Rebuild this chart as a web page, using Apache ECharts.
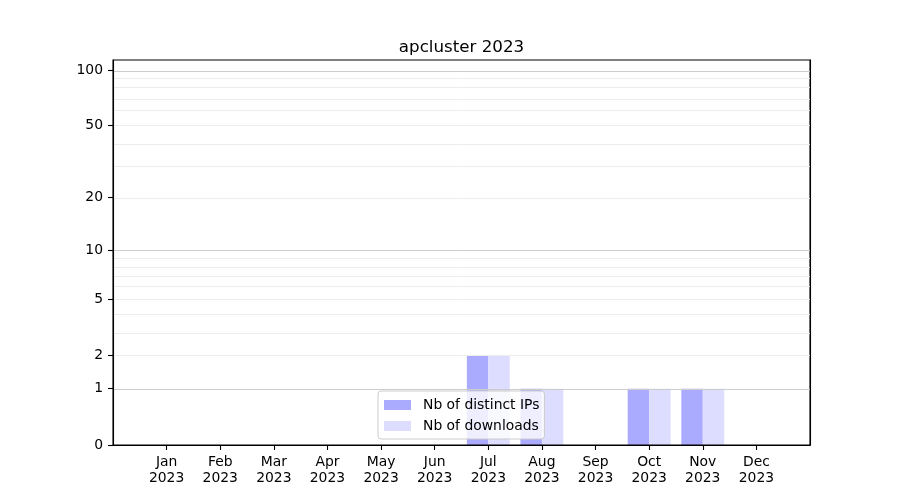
<!DOCTYPE html>
<html>
<head>
<meta charset="utf-8">
<script src="https://cdn.jsdelivr.net/npm/echarts@6/dist/echarts.min.js"></script>
<style>html,body{margin:0;padding:0;background:#fff}#c{width:900px;height:500px}</style>
</head>
<body>
<div id="c"></div>
<script>
const months = ['Jan','Feb','Mar','Apr','May','Jun','Jul','Aug','Sep','Oct','Nov','Dec'];
const year = '2023';
const distinctIPs = [0,0,0,0,0,0,2,1,0,1,1,0];
const downloads   = [0,0,0,0,0,0,2,1,0,1,1,0];
const yTickLabels = [0,1,2,5,10,20,50,100];
const majorGrid = [1,10,100];
const minorGrid = [2,3,4,5,6,7,8,9,20,30,40,50,60,70,80,90];

const tf = v => Math.log10(1 + v);
const chart = echarts.init(document.getElementById('c'), null, {renderer:'canvas'});
const font = 'DejaVu Sans';
const gridLeft = 113, gridRight = 90;
const plotW = 900 - gridLeft - gridRight;
const xMin = -1, xMax = 12;
const yMax = 2.058;
const barW = plotW / (xMax - xMin) * 0.4;

const gridLines = majorGrid.map(v => ({yAxis: tf(v), lineStyle:{color:'#cccccc', width:1, type:'solid'}}))
  .concat(minorGrid.map(v => ({yAxis: tf(v), lineStyle:{color:'#ececec', width:1, type:'solid'}})));

chart.setOption({
  animation: false,
  backgroundColor: '#ffffff',
  title: {
    text: 'apcluster ' + year,
    left: 456.5, textAlign: 'center', top: 34,
    textStyle: {fontFamily: font, fontSize: 16.7, fontWeight: 'normal', color: '#000'}
  },
  legend: {
    orient: 'vertical',
    left: 378, top: 391,
    padding: [7, 5, 6, 6],
    itemWidth: 27, itemHeight: 10, itemGap: 7,
    backgroundColor: 'rgba(255,255,255,0.8)',
    borderColor: '#cccccc', borderWidth: 1, borderRadius: 3,
    icon: 'rect',
    textStyle: {fontFamily: font, fontSize: 13.9, color: '#000', padding: [0,0,0,7]},
    data: ['Nb of distinct IPs', 'Nb of downloads']
  },
  grid: {left: gridLeft, right: gridRight, top: 60, bottom: 55, show: true, z: 5, borderColor: '#000', borderWidth: 1.1, backgroundColor: 'transparent'},
  xAxis: {
    type: 'value', min: xMin, max: xMax, z: 5,
    axisLine: {show: true, onZero: false, lineStyle: {color: '#000', width: 1.1}},
    axisTick: {show: true, length: 5, lineStyle: {color: '#000', width: 1.1}, customValues: months.map((m,i)=>i)},
    axisLabel: {
      customValues: months.map((m,i)=>i),
      formatter: v => months[Math.round(v)] + '\n' + year,
      fontFamily: font, fontSize: 13.9, color: '#000', lineHeight: 16.5, margin: 9
    },
    splitLine: {show: false}
  },
  yAxis: [{
    type: 'value', min: 0, max: yMax, z: 5,
    axisLine: {show: true, onZero: false, lineStyle: {color: '#000', width: 1.1}},
    axisTick: {show: true, length: 5, lineStyle: {color: '#000', width: 1.1}, customValues: yTickLabels.map(tf)},
    axisLabel: {
      customValues: yTickLabels.map(tf),
      formatter: v => String(Math.round(Math.pow(10, v) - 1)),
      fontFamily: font, fontSize: 13.9, color: '#000', margin: 10
    },
    splitLine: {show: false}
  }, {
    type: 'value', min: 0, max: yMax, z: 5, position: 'right',
    axisLine: {show: true, onZero: false, lineStyle: {color: '#000', width: 1.1}},
    axisTick: {show: false}, axisLabel: {show: false}, splitLine: {show: false}
  }],
  series: [
    {
      name: '_grid', type: 'line', data: [], z: 1, silent: true,
      markLine: {silent: true, symbol: 'none', label: {show: false}, animation: false, data: gridLines}
    },
    {
      name: 'Nb of distinct IPs', type: 'bar', z: 2,
      barWidth: barW, barGap: '0%',
      itemStyle: {color: '#aaaaff'},
      data: distinctIPs.map((v,i) => [i, tf(v)])
    },
    {
      name: 'Nb of downloads', type: 'bar', z: 2,
      barWidth: barW, barGap: '0%',
      itemStyle: {color: '#ddddff'},
      data: downloads.map((v,i) => [i, tf(v)])
    }
  ]
});
</script>
</body>
</html>
